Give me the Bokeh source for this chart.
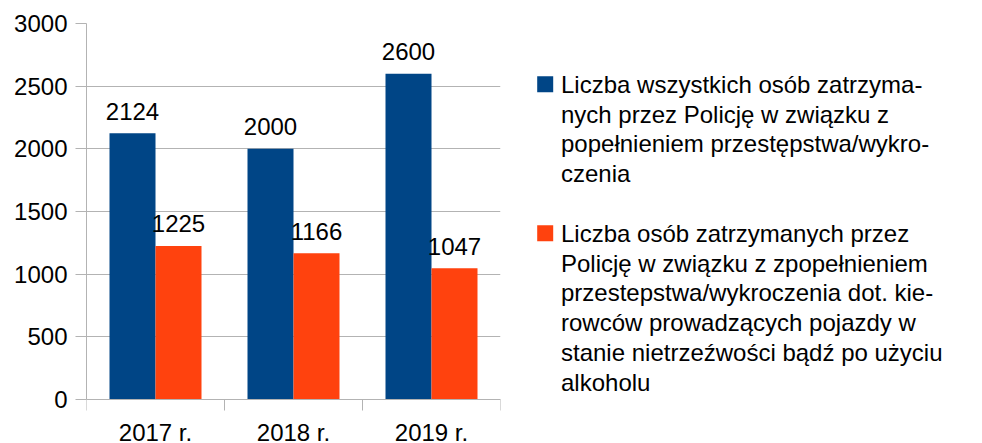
import numpy as np
from bokeh.plotting import figure
from bokeh.models import Range1d, FixedTicker
from bokeh.layouts import row
from bokeh.core.properties import value
from bokeh.embed import file_html
from bokeh.resources import INLINE

# ---- data ----
categories = ["2017 r.", "2018 r.", "2019 r."]
all_detained = [2124, 2000, 2600]
drunk_drivers = [1225, 1166, 1047]
y_ticks = [0, 500, 1000, 1500, 2000, 2500, 3000]
legend_1 = [
    "Liczba wszystkich osób zatrzyma-",
    "nych przez Policję w związku z",
    "popełnieniem przestępstwa/wykro-",
    "czenia",
]
legend_2 = [
    "Liczba osób zatrzymanych przez",
    "Policję w związku z zpopełnieniem",
    "przestepstwa/wykroczenia dot. kie-",
    "rowców prowadzących pojazdy w",
    "stanie nietrzeźwości bądź po użyciu",
    "alkoholu",
]

FONT = "Liberation Sans"
BLUE = "#004586"
ORANGE = "#ff420e"
GRID = "#b3b3b3"
TXT_FIX = 9  # text glyph baseline correction (px)

# frame: top at 23 px, value 0 at 399 px, frame runs to the bottom edge (443 px)
Y_MAX = 3000
PX_PER_UNIT = (399 - 23) / Y_MAX
y_start = -(443 - 399) / PX_PER_UNIT

p = figure(width=520, height=443, x_range=Range1d(0, 3), y_range=Range1d(y_start, Y_MAX),
           output_backend="svg", toolbar_location=None,
           min_border_left=86, min_border_right=20, min_border_top=23, min_border_bottom=0)
p.outline_line_color = None
p.background_fill_color = "white"

xc = np.arange(len(categories)) + 0.5
p.vbar(x=xc - 1/6, top=all_detained, bottom=0, width=1/3, fill_color=BLUE, line_color=None)
p.vbar(x=xc + 1/6, top=drunk_drivers, bottom=0, width=1/3, fill_color=ORANGE, line_color=None)

p.text(x=list(xc - 1/6), y=all_detained, text=[str(v) for v in all_detained],
       text_align="center", text_baseline="alphabetic", y_offset=-13 - TXT_FIX,
       text_font=value(FONT), text_font_size="24px", text_color="#000000")
p.text(x=list(xc + 1/6), y=drunk_drivers, text=[str(v) for v in drunk_drivers],
       text_align="center", text_baseline="alphabetic", y_offset=-13 - TXT_FIX,
       text_font=value(FONT), text_font_size="24px", text_color="#000000")

yax = p.yaxis[0]
yax.ticker = FixedTicker(ticks=y_ticks)
yax.bounds = (0, Y_MAX)
yax.major_tick_out = 11
yax.major_tick_in = 0
yax.minor_tick_out = 0
yax.minor_tick_in = 0
yax.axis_line_color = GRID
yax.major_tick_line_color = GRID
yax.major_label_text_font = FONT
yax.major_label_text_font_size = "24px"
yax.major_label_text_color = "#000000"
yax.major_label_standoff = 8

xax = p.xaxis[0]
xax.fixed_location = 0
xax.ticker = FixedTicker(ticks=list(xc), minor_ticks=[0, 1, 2, 3])
xax.major_label_overrides = {float(c): lab for c, lab in zip(xc, categories)}
xax.major_tick_out = 0
xax.major_tick_in = 0
xax.minor_tick_out = 11
xax.minor_tick_in = 0
xax.minor_tick_line_color = GRID
xax.major_tick_line_color = None
xax.axis_line_color = GRID
xax.major_label_text_font = FONT
xax.major_label_text_font_size = "24px"
xax.major_label_text_color = "#000000"
xax.major_label_standoff = 8

p.xgrid.visible = False
p.ygrid.grid_line_color = GRID

# ---- legend panel (frame y 23..443, same as main frame) ----
lf = figure(width=462, height=443, x_range=Range1d(520, 982), y_range=Range1d(443, 23),
            output_backend="svg", toolbar_location=None,
            min_border_left=0, min_border_right=0, min_border_top=23, min_border_bottom=0,
            x_axis_type=None, y_axis_type=None)
lf.outline_line_color = None
lf.grid.visible = False

step = 29.8
base1 = 92.8
base2 = base1 + step * (len(legend_1) + 1)
for base, lines, col in [(base1, legend_1, BLUE), (base2, legend_2, ORANGE)]:
    lf.quad(left=[536.7], right=[552.7], top=[base - 17], bottom=[base - 1],
            fill_color=col, line_color=None)
    ys = [base - TXT_FIX + i * step for i in range(len(lines))]
    lf.text(x=[560.5] * len(lines), y=ys, text=lines, text_align="left",
            text_baseline="alphabetic", text_font=value(FONT), text_font_size="24px",
            text_color="#000000")

layout = row(p, lf)
open("out.html", "w").write(file_html(layout, INLINE))
